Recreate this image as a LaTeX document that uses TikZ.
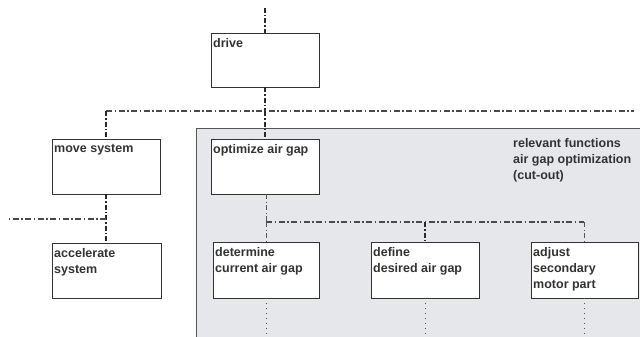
\documentclass[tikz,border=0pt]{standalone}
\usepackage{fontspec}
\setmainfont{Liberation Sans}
\definecolor{boxline}{HTML}{333333}
\definecolor{regionfill}{HTML}{E6E7EB}
\definecolor{regionline}{HTML}{555555}
\definecolor{conn}{HTML}{2A2A2A}
\tikzset{
  fbox/.style={draw=boxline, fill=white, line width=0.8pt, anchor=north west,
    inner sep=0pt, outer sep=0pt},
  lbl/.style={anchor=north west, inner sep=0pt, align=left,
    font=\bfseries\fontsize{12.5}{16}\selectfont, text=boxline},
  thickdd/.style={draw=conn, line width=1.7pt, dash pattern=on 5pt off 2pt on 1.5pt off 2pt},
  meddd/.style={draw=conn!85, line width=1.1pt, dash pattern=on 6pt off 2.5pt on 1.5pt off 2.5pt},
  thindd/.style={draw=conn!80, line width=0.7pt, dash pattern=on 5pt off 2.5pt on 1pt off 2.5pt},
  dotln/.style={draw=conn!80, line width=0.7pt, dash pattern=on 1pt off 4pt},
}
\begin{document}
\begin{tikzpicture}[x=1pt,y=-1pt]
\useasboundingbox (0,0) rectangle (640,337);
% region
\fill[regionfill] (196,128) rectangle (645,342);
\draw[regionline, line width=0.9pt] (196,342) -- (196,128) -- (645,128);
\node[lbl] (rel) at (513,138) {relevant functions\\air gap optimization\\(cut-out)};

% boxes
\node[fbox, minimum width=108pt, minimum height=54pt] (drive) at (211,33) {};
\node[fbox, minimum width=108pt, minimum height=55pt] (move) at (52,139) {};
\node[fbox, minimum width=109pt, minimum height=55pt] (accel) at (52,243) {};
\node[fbox, minimum width=108pt, minimum height=55pt] (opt) at (211,139) {};
\node[fbox, minimum width=106pt, minimum height=56pt] (det) at (213,242) {};
\node[fbox, minimum width=108pt, minimum height=56pt] (def) at (371,242) {};
\node[fbox, minimum width=107pt, minimum height=56pt] (adj) at (531,242) {};

% labels
\node[lbl] (drivet) at ([shift={(2,5)}]drive.north west) {drive};
\node[lbl] (movet) at ([shift={(2,5)}]move.north west) {move system};
\node[lbl] (accelt) at ([shift={(2,5)}]accel.north west) {accelerate\\system};
\node[lbl] (optt) at ([shift={(2,5)}]opt.north west) {optimize air gap};
\node[lbl] (dett) at ([shift={(2,5)}]det.north west) {determine\\current air gap};
\node[lbl] (deft) at ([shift={(2,5)}]def.north west) {define\\desired air gap};
\node[lbl] (adjt) at ([shift={(2,5)}]adj.north west) {adjust\\secondary\\motor part};

% coordinates
\coordinate (top) at (265,8);
\coordinate (j1) at (265,111);
\coordinate (jl) at (106,111);
\coordinate (jr) at (634,111);
\coordinate (lj) at (106,219);
\coordinate (lend) at (9,219);
\coordinate (j2) at (266,222);
\coordinate (j2m) at (425,222);
\coordinate (j2r) at (584,222);
\coordinate (b1) at (266,337);
\coordinate (b2) at (425,337);
\coordinate (b3) at (584,337);

% connectors
\draw[thickdd] (top) -- (drive.north);
\draw[thickdd] (drive.south) -- (j1);
\draw[meddd] (jl) -- (jr);
\draw[thickdd] (jl) -- (move.north);
\draw[thickdd] (j1) -- (opt.north);
\draw[thickdd] (move.south) -- (accel.north -| move.south);
\draw[meddd] (lj) -- (lend);
\draw[thindd] (opt.south -| j2) -- (j2);
\draw[meddd] (j2) -- (j2r);
\draw[thindd] (j2) -- (det.north -| j2);
\draw[thickdd] (j2m) -- (def.north -| j2m);
\draw[thindd] (j2r) -- (adj.north -| j2r);
\draw[dotln] (det.south -| b1) -- (b1);
\draw[dotln] (def.south -| b2) -- (b2);
\draw[dotln] (adj.south -| b3) -- (b3);
\end{tikzpicture}
\end{document}
